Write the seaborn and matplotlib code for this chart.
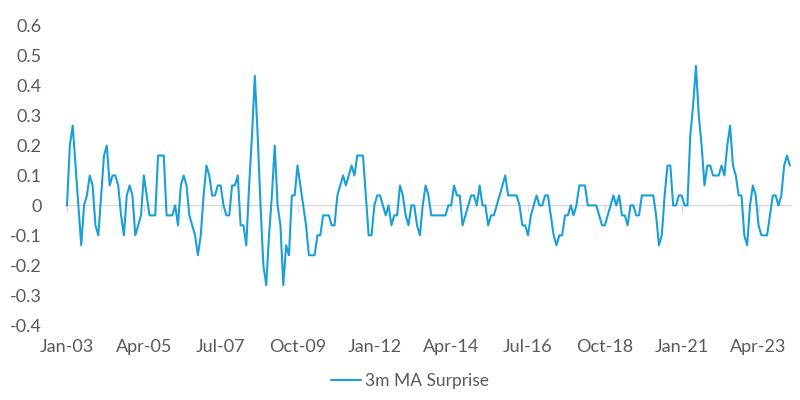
import matplotlib
matplotlib.use("Agg")
import matplotlib.pyplot as plt
import seaborn as sns
import pandas as pd
import numpy as np

# ---- data (values in units of the chart, monthly from Jan-03) ----
surprise_thirtieths = [
    0, 6, 8, 4, 0, -4, 0, 1, 3, 2, -2, -3, 1, 5, 6, 2, 3, 3, 2, -1,
    -3, 1, 2, 1, -3, -2, -1, 3, 1, -1, -1, -1, 5, 5, 5, -1, -1, -1, 0, -2,
    2, 3, 2, -1, -2, -3, -5, -3, 1, 4, 3, 1, 1, 2, 2, 0, -1, -1, 2, 2,
    3, -2, -2, -4, 2, 7, 13, 7, 0, -6, -8, -3, 1, 6, 0, -2, -8, -4, -5, 1,
    1, 4, 2, 0, -2, -5, -5, -5, -3, -3, -1, -1, -1, -2, -2, 1, 2, 3, 2, 3,
    4, 3, 5, 5, 5, 1, -3, -3, 0, 1, 1, 0, -1, 0, -2, -1, -1, 2, 1, -1,
    -2, 0, 0, -2, -3, 0, 2, 1, -1, -1, -1, -1, -1, -1, 0, 0, 2, 1, 1, -2,
    -1, 0, 1, 1, 0, 2, 0, 0, -2, -1, -1, 0, 1, 2, 3, 1, 1, 1, 1, 0,
    -2, -2, -3, -1, 0, 1, 0, 0, 1, 1, -1, -3, -4, -3, -3, -1, -1, 0, -1, 0,
    2, 2, 2, 0, 0, 0, 0, -1, -2, -2, -1, 0, 1, 0, 1, -1, -1, -2, 0, 0,
    -1, -1, 1, 1, 1, 1, 1, -1, -4, -3, 1, 4, 4, 0, 0, 1, 1, 0, 0, 7,
    10, 14, 9, 6, 2, 4, 4, 3, 3, 3, 4, 3, 6, 8, 4, 3, 1, 1, -3, -4,
    0, 2, 1, -2, -3, -3, -3, -1, 1, 1, 0, 1, 4, 5, 4,
]
surprise = [v / 30 for v in surprise_thirtieths]
month_index = list(range(len(surprise)))
series_name = "3m MA Surprise"

x_tick_labels = ["Jan-03", "Apr-05", "Jul-07", "Oct-09", "Jan-12",
                 "Apr-14", "Jul-16", "Oct-18", "Jan-21", "Apr-23"]
x_tick_months = [0, 27, 54, 81, 108, 135, 162, 189, 216, 243]
y_ticks = [-0.4, -0.3, -0.2, -0.1, 0, 0.1, 0.2, 0.3, 0.4, 0.5, 0.6]
y_tick_labels = ["-0.4", "-0.3", "-0.2", "-0.1", "0", "0.1", "0.2",
                 "0.3", "0.4", "0.5", "0.6"]

df = pd.DataFrame({"month": month_index, "value": surprise,
                   "series": series_name})

# ---- style ----
sns.set_style("white")
plt.rcParams["font.family"] = ["Lato", "DejaVu Sans"]
text_gray = "#595959"
line_blue = "#1A9FD9"
axis_gray = "#D9D9D9"

fig = plt.figure(figsize=(8, 4), dpi=100)
ax = fig.add_axes([65 / 800, 75 / 400, 726 / 800, 299 / 400])

sns.lineplot(data=df, x="month", y="value", hue="series",
             palette=[line_blue], linewidth=1.5, ax=ax, legend=False)

ax.set_xlim(-0.7, 254.4)
ax.set_ylim(-0.4, 0.6)
ax.set_xlabel("")
ax.set_ylabel("")

for s in ax.spines.values():
    s.set_visible(False)

ax.set_yticks(y_ticks)
ax.set_yticklabels(y_tick_labels)
ax.tick_params(axis="y", length=0, pad=17, labelsize=13, labelcolor=text_gray)

ax.set_xticks(x_tick_months)
ax.set_xticklabels(x_tick_labels)
ax.tick_params(axis="x", length=0, pad=10, labelsize=13, labelcolor=text_gray)

# horizontal axis at zero with tick marks
zero_frac = (0 - (-0.4)) / (0.6 - (-0.4))
sec = ax.secondary_xaxis(zero_frac)
sec.set_xticks(x_tick_months)
sec.set_xticklabels([])
sec.tick_params(axis="x", direction="out", length=5, width=1, color=axis_gray)
sec.spines["bottom"].set_color(axis_gray)
sec.spines["bottom"].set_linewidth(1)
for k in ("top", "left", "right"):
    sec.spines[k].set_visible(False)
ax.lines[0].set_zorder(3)

# legend
handle = plt.Line2D([], [], color=line_blue, linewidth=1.5)
fig.legend([handle], [series_name], loc="center",
           bbox_to_anchor=(0.5125, 0.047), frameon=False,
           fontsize=12.5, handlelength=1.75, handletextpad=0.25,
           labelcolor=text_gray)

fig.savefig("out.png", dpi=100)
